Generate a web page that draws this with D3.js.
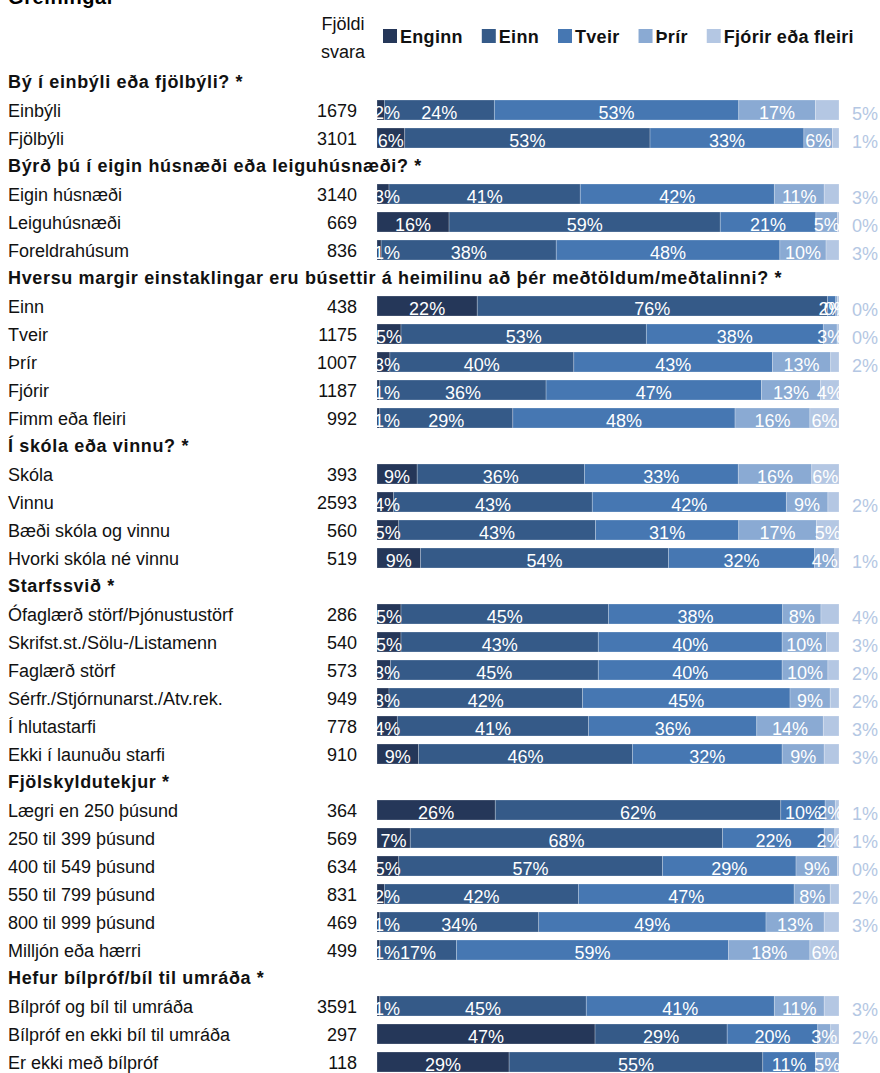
<!DOCTYPE html>
<html>
<head>
<meta charset="utf-8">
<script src="https://cdn.jsdelivr.net/npm/d3@7/dist/d3.min.js"></script>
<style>
  html, body { margin: 0; padding: 0; background: #fff; }
  svg { display: block; }
  text { font-family: "Liberation Sans", Arial, sans-serif; }
</style>
</head>
<body>
<svg id="chart" width="880" height="1073"></svg>
<script>
// ---------- DATA ----------
const title = "Greiningar";
const countHeader = ["Fjöldi", "svara"];
const seriesNames = ["Enginn", "Einn", "Tveir", "Þrír", "Fjórir eða fleiri"];
const seriesColors = ["#253759", "#355a88", "#4677b2", "#8aaad3", "#b4c7e3"];

const questions = [
  "Bý í einbýli eða fjölbýli? *",
  "Býrð þú í eigin húsnæði eða leiguhúsnæði? *",
  "Hversu margir einstaklingar eru búsettir á heimilinu að þér meðtöldum/meðtalinni? *",
  "Í skóla eða vinnu? *",
  "Starfssvið *",
  "Fjölskyldutekjur *",
  "Hefur bílpróf/bíl til umráða *"
];
const questionSizes = [2, 3, 5, 4, 6, 6, 3];

const categories = [
  "Einbýli", "Fjölbýli",
  "Eigin húsnæði", "Leiguhúsnæði", "Foreldrahúsum",
  "Einn", "Tveir", "Þrír", "Fjórir", "Fimm eða fleiri",
  "Skóla", "Vinnu", "Bæði skóla og vinnu", "Hvorki skóla né vinnu",
  "Ófaglærð störf/Þjónustustörf", "Skrifst.st./Sölu-/Listamenn", "Faglærð störf",
  "Sérfr./Stjórnunarst./Atv.rek.", "Í hlutastarfi", "Ekki í launuðu starfi",
  "Lægri en 250 þúsund", "250 til 399 þúsund", "400 til 549 þúsund",
  "550 til 799 þúsund", "800 til 999 þúsund", "Milljón eða hærri",
  "Bílpróf og bíl til umráða", "Bílpróf en ekki bíl til umráða", "Er ekki með bílpróf"
];
const counts = [1679, 3101, 3140, 669, 836, 438, 1175, 1007, 1187, 992,
  393, 2593, 560, 519, 286, 540, 573, 949, 778, 910,
  364, 569, 634, 831, 469, 499, 3591, 297, 118];

const enginn = [1.6, 6.0, 2.6, 15.6, 0.9, 21.7, 5.2, 2.8, 0.6, 0.6,
  8.7, 3.6, 4.7, 9.4, 5.2, 5.2, 2.9, 2.6, 4.4, 9.0,
  25.6, 7.2, 4.7, 1.6, 0.6, 0.6, 0.6, 47.2, 28.6];
const einn = [23.8, 53.1, 41.4, 58.7, 37.9, 75.8, 53.1, 39.8, 36.0, 28.8,
  36.2, 43.0, 42.6, 53.7, 44.9, 42.7, 45.0, 41.9, 41.4, 46.3,
  61.8, 67.6, 57.1, 42.0, 34.4, 16.6, 44.7, 28.6, 54.9];
const tveir = [52.9, 33.3, 42.0, 20.7, 48.4, 1.8, 38.3, 43.0, 46.6, 48.1,
  33.3, 42.0, 31.0, 31.6, 37.7, 39.8, 39.8, 44.9, 36.4, 32.4,
  9.6, 22.0, 28.9, 46.7, 49.2, 58.9, 40.7, 19.6, 11.4];
const thrir = [16.6, 6.2, 10.8, 4.7, 10.0, 0.4, 3.0, 12.6, 12.8, 16.2,
  15.9, 9.0, 16.8, 4.4, 8.3, 9.6, 9.9, 8.7, 14.4, 9.1,
  2.2, 2.3, 9.0, 7.8, 12.6, 17.6, 10.8, 2.8, 5.1];
const fjorir = [5.1, 1.4, 3.2, 0.3, 2.8, 0.3, 0.4, 1.8, 4.0, 6.3,
  5.9, 2.4, 4.9, 0.9, 3.9, 2.7, 2.4, 1.9, 3.4, 3.2,
  0.8, 0.9, 0.3, 1.9, 3.2, 6.3, 3.2, 1.8, 0.0];
// whether the last segment's label is written to the right of the bar
const lastLabelOutside = [true, true, true, true, true, true, true, true, false, false,
  false, true, false, true, true, true, true, true, true, true,
  true, true, true, true, true, false, true, true, false];

// ---------- BUILD ROWS ----------
const seriesValues = [enginn, einn, tveir, thrir, fjorir];
const rows = [];
let ci = 0;
questions.forEach((q, qi) => {
  rows.push({ id: "q" + qi, type: "header", label: q });
  for (let k = 0; k < questionSizes[qi]; k++, ci++) {
    rows.push({
      id: "c" + ci, type: "cat", label: categories[ci], count: counts[ci],
      values: seriesValues.map(s => s[ci]), outside: lastLabelOutside[ci]
    });
  }
});

// ---------- SCALES ----------
const svg = d3.select("#chart");
const y = d3.scaleBand().domain(rows.map(r => r.id)).range([68, 68 + 28 * rows.length]).padding(0);
const x = d3.scaleLinear().domain([0, 100]).range([377, 839]);
const color = d3.scaleOrdinal().domain(seriesNames).range(seriesColors);
const barH = 20;
const fmt = v => d3.format(".0f")(v) + "%";

// clip for bar labels
svg.append("defs").append("clipPath").attr("id", "barclip")
  .append("rect").attr("x", x(0)).attr("y", 0).attr("width", x(100) - x(0) + 1).attr("height", 1073);

// ---------- TITLE & HEADERS ----------
svg.append("text").attr("x", 8).attr("y", 4)
  .attr("font-size", 20).attr("font-weight", "bold").attr("letter-spacing", 0.6)
  .text(title);

svg.selectAll("text.cnthead").data(countHeader).join("text")
  .attr("class", "cnthead")
  .attr("x", 343).attr("y", (d, i) => 30 + i * 28)
  .attr("text-anchor", "middle").attr("font-size", 18).attr("fill", "#111")
  .text(d => d);

// legend
const legend = svg.append("g");
let lx = 383;
seriesNames.forEach(name => {
  const g = legend.append("g");
  g.append("rect").attr("x", lx).attr("y", 29).attr("width", 14).attr("height", 14).attr("fill", color(name));
  const t = g.append("text").attr("x", lx + 17).attr("y", 43)
    .attr("font-size", 18).attr("font-weight", "bold").attr("letter-spacing", 0.3)
    .attr("fill", "#111").text(name);
  lx += 17 + t.node().getComputedTextLength() + 19;
});

// ---------- ROW LABELS ----------
const rowG = svg.append("g");
rows.forEach(r => {
  const cy = y(r.id) + y.bandwidth() / 2;
  if (r.type === "header") {
    rowG.append("text").attr("x", 8).attr("y", cy + 6)
      .attr("font-size", 18).attr("font-weight", "bold").attr("letter-spacing", 0.65)
      .attr("fill", "#111").text(r.label);
  } else {
    rowG.append("text").attr("x", 8).attr("y", cy + 6.5)
      .attr("font-size", 18).attr("fill", "#111").text(r.label);
    rowG.append("text").attr("x", 357).attr("y", cy + 6.5).attr("text-anchor", "end")
      .attr("font-size", 18).attr("fill", "#111").text(r.count);
  }
});

// ---------- BARS ----------
const catRows = rows.filter(r => r.type === "cat");
const segs = [];
catRows.forEach(r => {
  let acc = 0;
  r.values.forEach((v, si) => {
    segs.push({ row: r, si, x0: acc, x1: acc + v, v });
    acc += v;
  });
});

svg.append("g").selectAll("rect").data(segs.filter(s => s.v > 0)).join("rect")
  .attr("x", s => x(s.x0))
  .attr("y", s => y(s.row.id) + y.bandwidth() / 2 - barH / 2)
  .attr("width", s => x(s.x1) - x(s.x0))
  .attr("height", barH)
  .attr("fill", s => color(seriesNames[s.si]))
  .attr("stroke", "rgba(255,255,255,0.3)")
  .attr("stroke-width", 0.8);

// inside labels
const inside = segs.filter(s => s.v > 0 && !(s.si === 4 && s.row.outside));
svg.append("g").attr("clip-path", "url(#barclip)")
  .selectAll("text").data(inside).join("text")
  .attr("x", s => Math.max(x((s.x0 + s.x1) / 2), x(0) + 10))
  .attr("y", s => y(s.row.id) + y.bandwidth() / 2 + 9)
  .attr("text-anchor", "middle")
  .attr("font-size", 18)
  .attr("fill", "#fff")
  .text(s => fmt(s.v));

// outside labels (last segment)
svg.append("g").selectAll("text").data(segs.filter(s => s.si === 4 && s.row.outside)).join("text")
  .attr("x", x(100) + 13)
  .attr("y", s => y(s.row.id) + y.bandwidth() / 2 + 9.5)
  .attr("font-size", 18)
  .attr("fill", color(seriesNames[4]))
  .text(s => fmt(s.v));
</script>
</body>
</html>
